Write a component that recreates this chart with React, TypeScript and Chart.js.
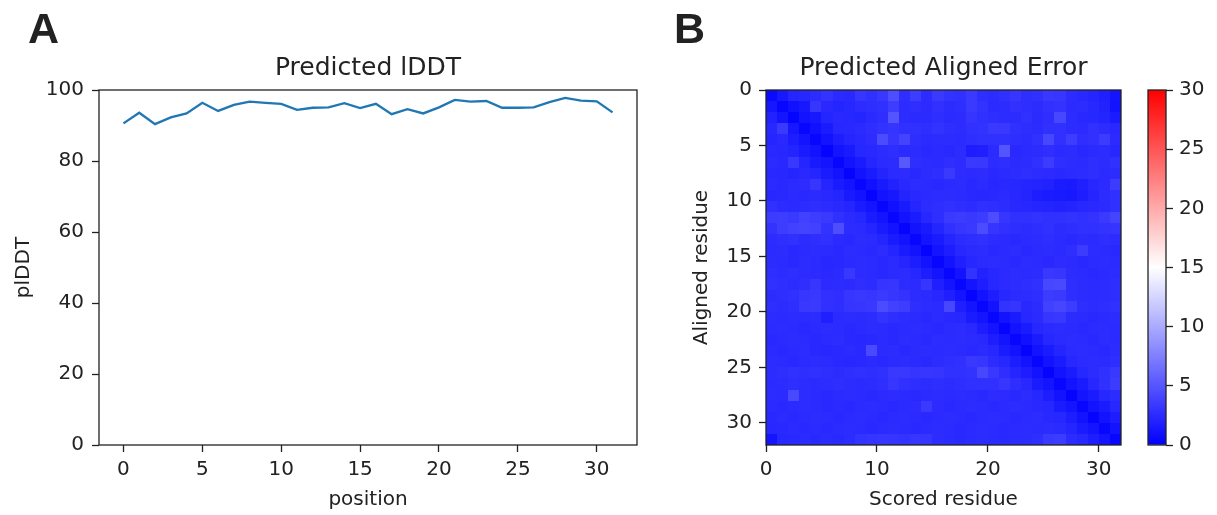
import React, { useEffect, useRef } from "react";
import { Chart, registerables } from "chart.js";

Chart.register(...registerables);

// ---------- Panel A data ----------
const POSITIONS = [0, 1, 2, 3, 4, 5, 6, 7, 8, 9, 10, 11, 12, 13, 14, 15, 16, 17, 18, 19, 20, 21, 22, 23, 24, 25, 26, 27, 28, 29, 30, 31];
const PLDDT = [90.6, 93.6, 90.4, 92.3, 93.4, 96.4, 94.1, 95.8, 96.7, 96.4, 96.1, 94.4, 95.0, 95.1, 96.3, 94.9, 96.1, 93.2, 94.6, 93.4, 95.1, 97.2, 96.7, 96.9, 95.0, 95.0, 95.1, 96.6, 97.8, 97.0, 96.8, 93.7];
const X_TICKS_A = [0, 5, 10, 15, 20, 25, 30];
const Y_TICKS_A = [0, 20, 40, 60, 80, 100];

// ---------- Panel B data ----------
const RESIDUE_COUNT = 32;
const X_TICKS_B = [0, 10, 20, 30];
const Y_TICKS_B = [0, 5, 10, 15, 20, 25, 30];
const COLORBAR_TICKS = [0, 5, 10, 15, 20, 25, 30];
const PAE_MIN = 0;
const PAE_MAX = 30;
// rows = aligned residue, columns = scored residue
const PAE_ROWS = [
  [0.6, 1.4, 2.2, 2.3, 2.6, 3.0, 2.5, 2.4, 3.2, 2.8, 3.3, 4.6, 2.7, 3.6, 2.6, 3.4, 3.0, 2.8, 3.4, 2.7, 2.6, 2.8, 3.2, 2.7, 2.8, 3.3, 3.2, 2.6, 2.4, 2.2, 1.8, 1.2],
  [1.3, 0.4, 1.0, 1.4, 3.2, 2.4, 2.2, 2.3, 2.6, 2.7, 2.9, 3.6, 2.6, 2.7, 2.5, 2.8, 2.6, 2.7, 3.4, 3.0, 2.5, 2.6, 2.8, 2.7, 2.6, 2.9, 3.0, 2.5, 2.6, 2.3, 2.0, 1.1],
  [2.0, 1.2, 0.3, 1.1, 1.4, 2.2, 2.4, 2.3, 2.2, 2.5, 2.7, 5.0, 2.6, 2.5, 2.5, 2.7, 2.5, 2.6, 3.1, 2.9, 2.7, 2.6, 2.6, 2.8, 2.5, 2.7, 4.2, 2.6, 2.4, 2.3, 2.1, 1.6],
  [2.3, 3.4, 1.3, 0.4, 1.0, 1.6, 2.3, 2.4, 2.5, 2.7, 3.0, 3.1, 2.9, 2.8, 2.7, 3.0, 2.7, 2.6, 2.9, 3.0, 3.4, 3.3, 2.8, 2.7, 2.6, 2.8, 2.9, 2.6, 2.5, 2.8, 2.6, 2.4],
  [2.2, 2.4, 1.7, 1.2, 0.4, 1.1, 1.7, 2.2, 2.4, 2.6, 4.4, 3.2, 4.0, 2.7, 2.5, 2.6, 2.6, 2.5, 2.7, 2.8, 2.9, 2.9, 2.7, 2.6, 2.8, 4.2, 2.8, 3.6, 2.7, 2.8, 3.5, 2.5],
  [2.4, 2.3, 2.1, 1.6, 1.1, 0.3, 1.2, 1.5, 2.3, 2.4, 2.6, 2.7, 2.5, 2.6, 2.4, 2.5, 2.4, 2.6, 1.7, 1.8, 2.5, 5.0, 2.4, 2.5, 2.6, 2.7, 2.5, 2.6, 2.4, 2.5, 2.6, 2.3],
  [2.5, 2.4, 3.3, 2.2, 1.5, 1.2, 0.4, 1.1, 1.6, 2.2, 2.5, 2.6, 5.2, 2.7, 2.6, 2.5, 2.7, 2.6, 3.4, 3.3, 2.6, 2.7, 2.5, 2.6, 2.8, 3.5, 2.7, 2.6, 2.5, 2.7, 2.6, 2.8],
  [2.4, 2.3, 2.2, 2.4, 2.2, 1.6, 1.1, 0.3, 1.1, 1.6, 2.1, 2.5, 2.6, 2.4, 2.6, 2.7, 3.4, 2.6, 2.5, 2.6, 2.4, 2.5, 2.6, 2.7, 2.6, 2.5, 2.4, 2.5, 2.6, 2.7, 2.5, 2.6],
  [2.5, 2.4, 2.5, 2.6, 3.2, 2.2, 1.6, 1.2, 0.4, 1.0, 1.5, 2.0, 2.4, 2.6, 2.5, 2.4, 2.5, 2.6, 2.4, 2.5, 2.3, 2.4, 2.3, 2.2, 2.1, 2.0, 1.6, 1.5, 1.9, 2.3, 2.5, 3.5],
  [2.3, 2.4, 2.5, 2.4, 2.5, 2.4, 2.2, 1.5, 1.1, 0.3, 1.1, 1.4, 2.1, 2.4, 2.5, 2.6, 2.6, 2.5, 2.4, 2.3, 2.4, 2.5, 2.3, 2.1, 1.7, 1.6, 1.5, 1.4, 1.7, 2.2, 2.6, 2.8],
  [2.8, 2.6, 2.5, 2.6, 2.7, 2.6, 2.4, 2.2, 1.6, 1.2, 0.4, 1.0, 1.5, 2.2, 2.6, 2.7, 2.8, 2.7, 2.6, 2.8, 2.7, 2.6, 2.4, 2.3, 2.2, 2.1, 2.0, 2.1, 2.3, 2.4, 2.5, 2.9],
  [3.5, 3.6, 3.4, 3.8, 3.6, 3.4, 2.8, 2.5, 2.3, 1.6, 1.2, 0.4, 1.1, 1.6, 2.3, 2.7, 3.4, 3.5, 3.3, 3.6, 4.5, 3.2, 2.8, 2.9, 3.0, 2.8, 2.9, 3.0, 2.8, 3.0, 3.4, 4.0],
  [3.0, 3.6, 3.8, 4.0, 3.8, 3.0, 4.6, 2.6, 2.5, 2.2, 1.6, 1.1, 0.3, 1.1, 1.5, 2.2, 2.8, 3.2, 3.4, 4.4, 3.1, 2.9, 2.7, 2.6, 2.7, 2.8, 2.6, 2.7, 2.9, 2.8, 3.0, 3.1],
  [2.6, 2.7, 2.8, 2.6, 2.7, 2.8, 2.5, 2.4, 2.6, 2.5, 2.2, 1.6, 1.1, 0.4, 1.2, 1.6, 2.2, 2.6, 2.7, 2.8, 2.6, 2.5, 2.4, 2.5, 2.6, 2.7, 2.5, 2.4, 2.6, 2.5, 2.7, 2.6],
  [2.5, 2.6, 2.4, 2.5, 2.6, 2.5, 2.4, 2.6, 2.5, 2.4, 2.6, 2.2, 1.6, 1.1, 0.3, 1.2, 1.7, 2.3, 2.5, 2.6, 2.4, 2.5, 2.6, 2.4, 2.5, 2.6, 2.5, 2.7, 3.5, 2.6, 2.5, 2.4],
  [2.6, 2.5, 2.4, 2.6, 2.5, 2.3, 2.4, 2.5, 2.6, 2.5, 2.4, 2.5, 2.2, 1.7, 1.1, 0.4, 1.1, 1.8, 2.3, 2.5, 2.6, 2.5, 2.4, 2.6, 2.5, 2.4, 2.6, 2.5, 2.4, 2.5, 2.6, 2.5],
  [2.7, 2.6, 2.7, 2.6, 2.5, 2.4, 2.5, 3.3, 2.6, 2.5, 2.4, 2.5, 2.6, 2.3, 1.7, 1.2, 0.4, 1.1, 3.0, 2.0, 2.3, 2.5, 2.6, 2.5, 2.6, 3.3, 3.2, 2.6, 2.5, 2.4, 2.5, 2.6],
  [2.8, 2.7, 2.6, 2.7, 3.2, 2.5, 2.6, 2.5, 2.7, 2.6, 3.1, 3.2, 2.6, 2.5, 3.2, 1.8, 1.2, 0.4, 1.2, 1.7, 2.3, 2.5, 2.6, 2.7, 2.8, 4.2, 4.3, 2.7, 2.6, 2.5, 2.6, 2.7],
  [2.6, 2.7, 2.8, 3.2, 3.3, 2.8, 2.7, 3.2, 3.3, 3.2, 3.4, 3.2, 3.0, 2.6, 2.5, 2.3, 1.8, 1.2, 0.3, 1.1, 1.7, 2.3, 2.5, 2.6, 2.7, 3.5, 3.4, 2.7, 2.6, 2.5, 2.6, 2.7],
  [2.7, 2.6, 2.7, 3.3, 3.4, 2.9, 2.7, 3.1, 3.2, 3.3, 4.4, 3.8, 3.6, 2.7, 2.6, 2.5, 4.2, 1.8, 1.2, 0.4, 1.1, 3.0, 3.1, 2.4, 2.6, 3.8, 4.1, 3.6, 2.7, 2.6, 2.7, 2.8],
  [2.6, 2.5, 2.6, 2.5, 2.6, 1.8, 2.5, 2.6, 2.5, 2.6, 3.0, 2.7, 2.6, 2.5, 2.4, 2.5, 2.4, 2.3, 1.6, 1.2, 0.4, 1.1, 1.6, 2.3, 2.5, 3.2, 3.3, 2.6, 2.5, 2.4, 2.5, 2.6],
  [2.5, 2.6, 2.5, 2.4, 2.5, 2.6, 2.5, 2.4, 2.5, 2.6, 2.5, 2.4, 2.5, 2.6, 2.5, 2.4, 2.5, 2.6, 2.4, 1.7, 1.2, 0.3, 1.1, 1.6, 2.3, 2.5, 2.6, 2.5, 2.4, 2.5, 2.6, 2.5],
  [2.4, 2.5, 2.6, 2.5, 2.4, 2.5, 2.6, 2.4, 2.3, 2.4, 2.5, 2.4, 2.6, 2.5, 2.4, 2.6, 2.5, 2.6, 2.5, 2.4, 1.7, 1.2, 0.4, 1.0, 1.6, 2.3, 2.5, 2.6, 2.5, 2.4, 2.6, 2.5],
  [2.5, 2.4, 2.5, 2.6, 2.4, 2.3, 2.4, 2.5, 2.4, 4.3, 2.5, 2.6, 2.4, 2.5, 2.6, 2.5, 2.6, 2.5, 2.4, 2.5, 2.3, 1.6, 1.1, 0.3, 1.1, 1.6, 2.2, 2.5, 2.6, 2.5, 2.4, 2.6],
  [2.6, 2.5, 2.4, 2.5, 2.6, 2.5, 2.4, 2.3, 2.4, 2.5, 2.4, 2.5, 2.6, 2.5, 2.4, 2.6, 2.7, 2.8, 3.3, 3.2, 2.6, 2.3, 1.7, 1.1, 0.4, 1.1, 1.6, 2.3, 2.5, 2.6, 2.5, 2.7],
  [2.6, 2.7, 2.8, 2.7, 2.8, 2.7, 2.6, 2.7, 2.8, 2.7, 2.8, 3.3, 3.3, 3.1, 3.2, 3.1, 2.9, 2.8, 3.0, 4.2, 3.3, 2.7, 2.2, 1.7, 1.1, 0.3, 1.1, 1.6, 2.3, 2.6, 2.9, 3.3],
  [2.5, 2.6, 2.7, 2.6, 2.5, 2.6, 2.7, 2.6, 2.5, 2.6, 2.7, 3.2, 2.8, 2.7, 2.6, 2.7, 2.6, 2.7, 2.8, 2.9, 2.8, 3.2, 2.7, 2.4, 1.6, 1.2, 0.4, 1.1, 1.6, 2.3, 2.8, 3.5],
  [2.6, 2.5, 4.3, 2.6, 2.5, 2.4, 2.5, 2.6, 2.5, 2.4, 2.5, 2.6, 2.5, 2.4, 2.5, 2.6, 2.5, 2.6, 2.5, 2.4, 2.6, 2.5, 2.4, 2.6, 2.3, 1.7, 1.1, 0.3, 1.2, 1.6, 2.3, 2.6],
  [2.5, 2.4, 2.5, 2.6, 2.5, 2.4, 2.5, 2.4, 2.5, 2.6, 2.5, 2.4, 2.5, 2.6, 3.4, 2.5, 2.4, 2.5, 2.6, 2.5, 2.4, 2.5, 2.6, 2.5, 2.4, 2.3, 1.6, 1.2, 0.4, 1.1, 1.6, 2.3],
  [2.4, 2.5, 2.4, 2.5, 2.6, 2.5, 2.4, 2.5, 2.6, 2.5, 2.4, 2.5, 2.6, 2.5, 2.4, 2.5, 2.6, 2.5, 2.4, 2.5, 2.6, 2.5, 2.4, 2.5, 2.6, 2.4, 2.3, 1.7, 1.1, 0.3, 1.1, 1.7],
  [2.3, 2.4, 2.5, 2.4, 2.5, 2.4, 2.5, 2.6, 2.5, 2.4, 2.5, 2.6, 2.5, 2.4, 2.5, 2.6, 2.5, 2.4, 2.5, 2.6, 2.5, 2.4, 2.5, 2.6, 2.5, 2.6, 2.5, 2.2, 1.6, 1.2, 0.4, 1.1],
  [1.2, 2.3, 2.4, 2.5, 2.4, 2.5, 2.4, 2.6, 3.0, 3.1, 3.2, 3.1, 3.0, 3.2, 3.1, 2.6, 2.5, 2.4, 2.5, 2.6, 2.5, 2.4, 2.5, 2.6, 2.7, 3.4, 3.5, 2.6, 2.3, 1.7, 1.2, 0.4],
];

// ---------- styling ----------
const FONT = "'DejaVu Sans', sans-serif";
const TEXT = "#222";
const TICK_FONT = { family: FONT, size: 20 };
const TITLE_FONT = { family: FONT, size: 25, weight: "normal" as const };

function bwr(v: number): string {
  const t = Math.max(0, Math.min(1, (v - PAE_MIN) / (PAE_MAX - PAE_MIN)));
  if (t <= 0.5) {
    const c = Math.round((t / 0.5) * 255);
    return `rgb(${c},${c},255)`;
  }
  const c = Math.round(((1 - t) / 0.5) * 255);
  return `rgb(255,${c},${c})`;
}

const framePlugin = {
  id: "frame",
  afterDraw(chart: any) {
    const { ctx, chartArea } = chart;
    ctx.save();
    ctx.strokeStyle = TEXT;
    ctx.lineWidth = 1.3;
    ctx.strokeRect(chartArea.left, chartArea.top, chartArea.right - chartArea.left, chartArea.bottom - chartArea.top);
    ctx.restore();
  },
};

const heatmapPlugin = {
  id: "heatmap",
  beforeDatasetsDraw(chart: any) {
    const { ctx } = chart;
    const xs = chart.scales.x;
    const ys = chart.scales.y;
    ctx.save();
    PAE_ROWS.forEach((row, i) => {
      row.forEach((v, j) => {
        const xa = Math.round(xs.getPixelForValue(j));
        const xb = Math.round(xs.getPixelForValue(j + 1));
        const ya = Math.round(ys.getPixelForValue(i));
        const yb = Math.round(ys.getPixelForValue(i + 1));
        ctx.fillStyle = bwr(v);
        ctx.fillRect(Math.min(xa, xb), Math.min(ya, yb), Math.abs(xb - xa), Math.abs(yb - ya));
      });
    });
    ctx.restore();
  },
};

const tickGrid = {
  display: true,
  drawOnChartArea: false,
  drawTicks: true,
  tickLength: 7,
  tickColor: TEXT,
  tickWidth: 1.3,
};

function setTicks(values: number[]) {
  return (scale: any) => {
    scale.ticks = values.map((v) => ({ value: v }));
  };
}

function PanelA() {
  const ref = useRef<HTMLCanvasElement | null>(null);
  useEffect(() => {
    if (!ref.current) return;
    const chart = new Chart(ref.current, {
      type: "line",
      data: {
        datasets: [
          {
            data: POSITIONS.map((p, i) => ({ x: p, y: PLDDT[i] })),
            borderColor: "#1f77b4",
            borderWidth: 2.3,
            pointRadius: 0,
            tension: 0,
            fill: false,
          },
        ],
      },
      options: {
        animation: false,
        responsive: false,
        maintainAspectRatio: false,
        layout: { padding: { left: 0, right: 23, top: 0, bottom: 0 } },
        plugins: {
          legend: { display: false },
          tooltip: { enabled: false },
          title: {
            display: true,
            text: "Predicted lDDT",
            fullSize: false,
            color: TEXT,
            font: TITLE_FONT,
            padding: { top: 53, bottom: 7 },
          },
        },
        scales: {
          x: {
            type: "linear",
            min: -1.55,
            max: 32.55,
            afterBuildTicks: setTicks(X_TICKS_A),
            afterFit: (s: any) => { s.height = 70; },
            grid: tickGrid,
            border: { display: false },
            ticks: { color: TEXT, font: TICK_FONT, padding: 6, autoSkip: false, maxRotation: 0 },
            title: { display: true, text: "position", color: TEXT, font: TICK_FONT, padding: { top: 0, bottom: 3 } },
          },
          y: {
            type: "linear",
            min: 0,
            max: 100,
            afterBuildTicks: setTicks(Y_TICKS_A),
            afterFit: (s: any) => { s.width = 99; },
            grid: tickGrid,
            border: { display: false },
            ticks: { color: TEXT, font: TICK_FONT, padding: 8, autoSkip: false },
            title: { display: true, text: "plDDT", color: TEXT, font: TICK_FONT, padding: { top: 12, bottom: 0 } },
          },
        },
      } as any,
      plugins: [framePlugin],
    });
    return () => chart.destroy();
  }, []);
  return <canvas ref={ref} width={660} height={515} style={{ position: "absolute", left: 0, top: 0, width: 660, height: 515 }} />;
}

function PanelB() {
  const ref = useRef<HTMLCanvasElement | null>(null);
  useEffect(() => {
    if (!ref.current) return;
    const chart = new Chart(ref.current, {
      type: "scatter",
      data: { datasets: [{ data: [], pointRadius: 0 }] },
      options: {
        animation: false,
        responsive: false,
        maintainAspectRatio: false,
        layout: { padding: { left: 0, right: 96, top: 0, bottom: 0 } },
        plugins: {
          legend: { display: false },
          tooltip: { enabled: false },
          title: {
            display: true,
            text: "Predicted Aligned Error",
            fullSize: false,
            color: TEXT,
            font: TITLE_FONT,
            padding: { top: 53, bottom: 7 },
          },
        },
        scales: {
          x: {
            type: "linear",
            min: 0,
            max: RESIDUE_COUNT,
            afterBuildTicks: setTicks(X_TICKS_B),
            afterFit: (s: any) => { s.height = 70; },
            grid: tickGrid,
            border: { display: false },
            ticks: { color: TEXT, font: TICK_FONT, padding: 6, autoSkip: false, maxRotation: 0 },
            title: { display: true, text: "Scored residue", color: TEXT, font: TICK_FONT, padding: { top: 0, bottom: 3 } },
          },
          y: {
            type: "linear",
            min: 0,
            max: RESIDUE_COUNT,
            reverse: true,
            afterBuildTicks: setTicks(Y_TICKS_B),
            afterFit: (s: any) => { s.width = 126; },
            grid: tickGrid,
            border: { display: false },
            ticks: { color: TEXT, font: TICK_FONT, padding: 7, autoSkip: false },
            title: { display: true, text: "Aligned residue", color: TEXT, font: TICK_FONT, padding: { top: 50, bottom: 0 } },
          },
        },
      } as any,
      plugins: [heatmapPlugin, framePlugin],
    });
    return () => chart.destroy();
  }, []);
  return <canvas ref={ref} width={577} height={515} style={{ position: "absolute", left: 640, top: 0, width: 577, height: 515 }} />;
}

function ColorBar() {
  const ref = useRef<HTMLCanvasElement | null>(null);
  useEffect(() => {
    if (!ref.current) return;
    const chart = new Chart(ref.current, {
      type: "bar",
      data: {
        labels: ["PAE"],
        datasets: [
          {
            data: [[PAE_MIN, PAE_MAX]],
            barPercentage: 1,
            categoryPercentage: 1,
            borderWidth: 0,
            backgroundColor: (c: any) => {
              const ch = c.chart;
              const ys = ch.scales.y;
              if (!ch.chartArea || !ys) return "rgb(0,0,255)";
              const g = ch.ctx.createLinearGradient(0, ys.getPixelForValue(PAE_MIN), 0, ys.getPixelForValue(PAE_MAX));
              g.addColorStop(0, bwr(PAE_MIN));
              g.addColorStop(0.5, bwr((PAE_MIN + PAE_MAX) / 2));
              g.addColorStop(1, bwr(PAE_MAX));
              return g;
            },
          },
        ],
      },
      options: {
        animation: false,
        responsive: false,
        maintainAspectRatio: false,
        layout: { padding: { left: 8, right: 0, top: 90, bottom: 70 } },
        plugins: { legend: { display: false }, tooltip: { enabled: false }, title: { display: false } },
        scales: {
          x: { display: false },
          y: {
            type: "linear",
            position: "right",
            min: PAE_MIN,
            max: PAE_MAX,
            afterBuildTicks: setTicks(COLORBAR_TICKS),
            afterFit: (s: any) => { s.width = 51; },
            grid: tickGrid,
            border: { display: false },
            ticks: { color: TEXT, font: TICK_FONT, padding: 6, autoSkip: false },
          },
        },
      } as any,
      plugins: [framePlugin],
    });
    return () => chart.destroy();
  }, []);
  return <canvas ref={ref} width={77} height={515} style={{ position: "absolute", left: 1140, top: 0, width: 77, height: 515 }} />;
}

const panelLabel: React.CSSProperties = {
  position: "absolute",
  fontFamily: "'Liberation Sans', Arial, sans-serif",
  fontWeight: "bold",
  fontSize: 43,
  lineHeight: "43px",
  color: "#222",
};

export default function App() {
  useEffect(() => {
    document.body.style.margin = "0";
  }, []);
  return (
    <div style={{ position: "fixed", left: 0, top: 0, width: 1217, height: 515, background: "#fff", overflow: "hidden" }}>
      <PanelA />
      <PanelB />
      <ColorBar />
      <div style={{ ...panelLabel, left: 28, top: 7 }}>A</div>
      <div style={{ ...panelLabel, left: 674, top: 7 }}>B</div>
    </div>
  );
}
